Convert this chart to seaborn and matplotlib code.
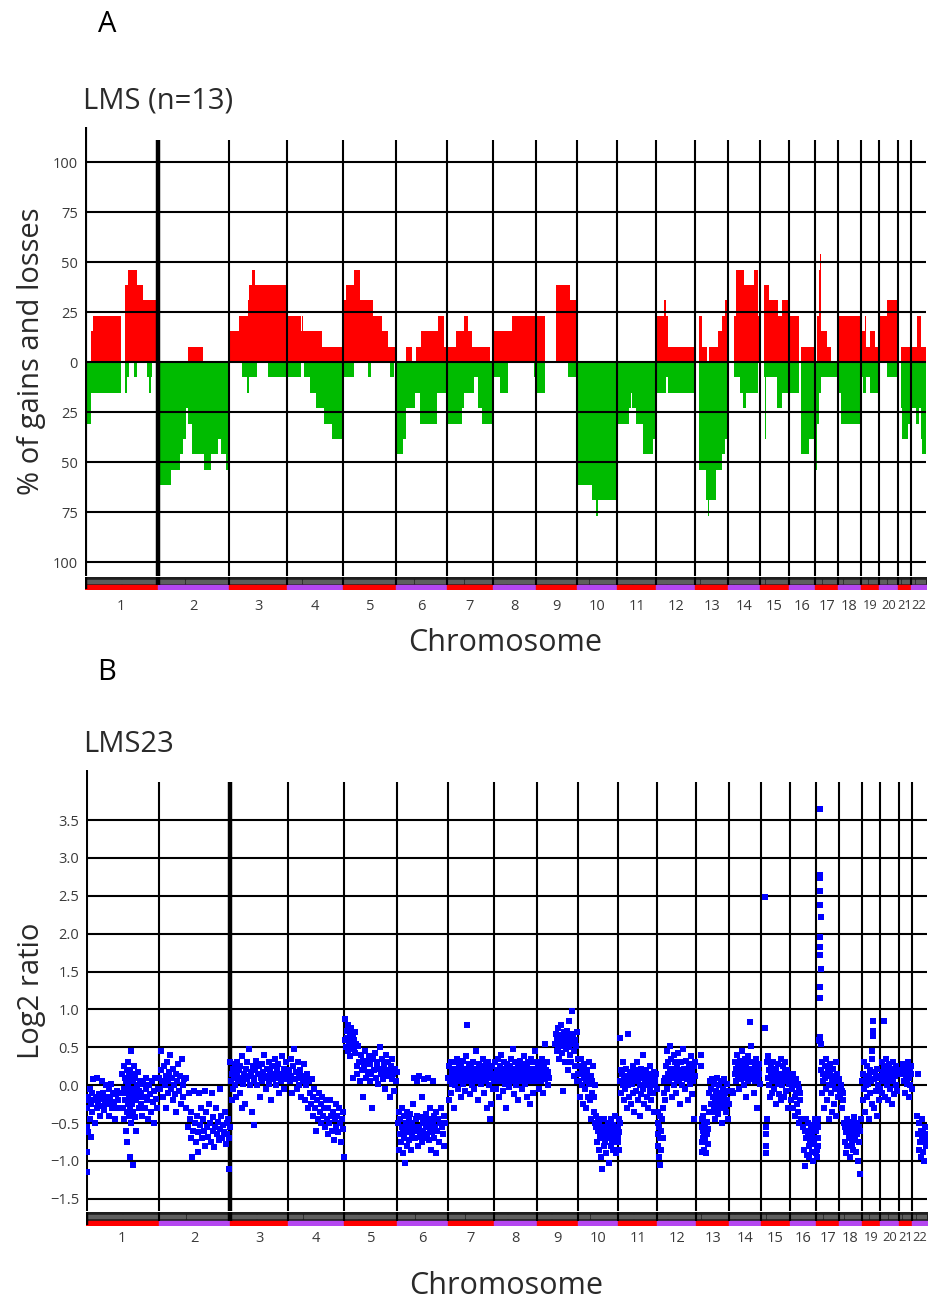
import matplotlib
matplotlib.use('Agg')
import matplotlib.pyplot as plt
import numpy as np
import pandas as pd
import seaborn as sns

# chromosome sizes (Mb) and centromere positions (Mb)
chrom_names = [str(i) for i in range(1, 23)]
chrom_mb = [247, 243, 199, 191, 181, 171, 159, 146, 140, 135, 134, 132,
            114, 106, 100, 89, 79, 76, 64, 62, 47, 50]
centromere_mb = [124, 93, 91, 50, 48, 60, 59, 45, 49, 40, 53, 35,
                 17, 17, 19, 36, 24, 17, 26, 27, 13, 13]

pct_ticks = [-100, -75, -50, -25, 0, 25, 50, 75, 100]
log2_ticks = [-1.5, -1.0, -0.5, 0.0, 0.5, 1.0, 1.5, 2.0, 2.5, 3.0, 3.5]

# panel A: % of 13 tumours with gain / loss, (chromosome, start Mb, end Mb, %)
gains = [
    (1, 20, 26, 15.4), (1, 26, 122, 23.1), (1, 136, 145, 38.5), (1, 145, 176, 46.2),
    (1, 176, 199, 38.5), (1, 199, 247, 30.8),
    (2, 103, 155, 7.7),
    (3, 0, 36, 15.4), (3, 36, 64, 23.1), (3, 64, 70, 30.8), (3, 70, 79, 38.5),
    (3, 79, 90, 46.2), (3, 90, 199, 38.5),
    (4, 0, 48, 23.1), (4, 48, 51, 15.4), (4, 51, 53, 23.1), (4, 53, 118, 15.4),
    (4, 118, 186, 7.7),
    (5, 0, 9, 30.8), (5, 9, 35, 38.5), (5, 35, 58, 46.2), (5, 58, 101, 30.8),
    (5, 101, 132, 23.1), (5, 132, 151, 15.4), (5, 151, 181, 7.7),
    (6, 32, 52, 7.7), (6, 67, 82, 7.7), (6, 82, 142, 15.4), (6, 142, 161, 23.1),
    (6, 161, 171, 7.7),
    (7, 0, 33, 7.7), (7, 33, 59, 15.4), (7, 59, 73, 23.1), (7, 73, 85, 15.4),
    (7, 85, 147, 7.7), (7, 154, 159, 7.7),
    (8, 0, 4, 23.1), (8, 4, 64, 15.4), (8, 64, 146, 23.1),
    (9, 0, 31, 23.1), (9, 67, 114, 38.5), (9, 114, 140, 30.8),
    (12, 0, 28, 23.1), (12, 28, 34, 30.8), (12, 34, 40, 23.1), (12, 40, 132, 7.7),
    (13, 15, 23, 23.1), (13, 23, 42, 7.7), (13, 49, 77, 7.7), (13, 77, 91, 15.4),
    (13, 91, 103, 23.1), (13, 103, 114, 30.8),
    (14, 18, 27, 23.1), (14, 27, 52, 46.2), (14, 52, 86, 38.5), (14, 86, 101, 46.2),
    (14, 101, 106, 23.1),
    (15, 15, 32, 38.5), (15, 32, 62, 30.8), (15, 62, 77, 23.1), (15, 77, 100, 30.8),
    (16, 0, 35, 23.1), (16, 42, 89, 7.7),
    (17, 6, 14, 23.1), (17, 14, 17, 46.2), (17, 17, 20, 53.8), (17, 20, 40, 15.4),
    (17, 40, 54, 7.7),
    (18, 0, 76, 23.1),
    (19, 0, 16, 15.4), (19, 16, 20, 23.1), (19, 20, 31, 7.7), (19, 31, 48, 15.4),
    (19, 48, 64, 7.7),
    (20, 0, 26, 23.1), (20, 26, 62, 30.8),
    (21, 11, 47, 7.7),
    (22, 0, 19, 7.7), (22, 19, 34, 23.1), (22, 34, 50, 7.7),
]

losses = [
    (1, 0, 6, 38.5), (1, 6, 20, 30.8), (1, 20, 122, 15.4), (1, 136, 144, 15.4),
    (1, 144, 151, 7.7), (1, 168, 176, 7.7), (1, 210, 218, 7.7), (1, 218, 225, 15.4),
    (1, 225, 227, 7.7),
    (2, 0, 47, 61.5), (2, 47, 75, 53.8), (2, 75, 87, 46.2), (2, 87, 97, 38.5),
    (2, 97, 103, 23.1), (2, 103, 118, 30.8), (2, 118, 158, 46.2), (2, 158, 183, 53.8),
    (2, 183, 205, 46.2), (2, 205, 215, 38.5), (2, 215, 232, 46.2), (2, 232, 243, 53.8),
    (3, 45, 63, 7.7), (3, 63, 70, 15.4), (3, 70, 96, 7.7), (3, 133, 199, 7.7),
    (4, 0, 48, 7.7), (4, 57, 78, 7.7), (4, 78, 98, 15.4), (4, 98, 125, 23.1),
    (4, 125, 152, 30.8), (4, 152, 191, 38.5),
    (5, 0, 35, 7.7), (5, 84, 95, 7.7), (5, 158, 172, 7.7),
    (6, 0, 23, 46.2), (6, 23, 31, 38.5), (6, 31, 62, 23.1), (6, 62, 80, 15.4),
    (6, 80, 139, 30.8), (6, 139, 171, 15.4),
    (7, 0, 53, 30.8), (7, 53, 59, 23.1), (7, 59, 93, 15.4), (7, 93, 108, 7.7),
    (7, 108, 122, 23.1), (7, 122, 159, 30.8),
    (8, 0, 22, 7.7), (8, 22, 49, 15.4), (8, 139, 146, 7.7),
    (9, 0, 31, 15.4), (9, 108, 140, 7.7),
    (10, 0, 50, 61.5), (10, 50, 65, 69.2), (10, 65, 69, 76.9), (10, 69, 135, 69.2),
    (11, 0, 42, 30.8), (11, 42, 47, 23.1), (11, 47, 51, 15.4), (11, 51, 64, 23.1),
    (11, 64, 90, 30.8), (11, 90, 122, 46.2), (11, 122, 134, 38.5),
    (12, 0, 34, 15.4), (12, 34, 40, 7.7), (12, 40, 132, 15.4),
    (13, 15, 38, 53.8), (13, 38, 43, 69.2), (13, 43, 49, 76.9), (13, 49, 71, 69.2),
    (13, 71, 91, 53.8), (13, 91, 102, 46.2), (13, 102, 114, 38.5),
    (14, 18, 41, 7.7), (14, 41, 48, 15.4), (14, 48, 59, 23.1), (14, 59, 101, 15.4),
    (15, 15, 18, 7.7), (15, 18, 21, 38.5), (15, 21, 60, 7.7), (15, 60, 77, 23.1),
    (15, 77, 100, 15.4),
    (16, 0, 35, 15.4), (16, 42, 69, 46.2), (16, 69, 89, 38.5),
    (17, 0, 3, 30.8), (17, 3, 6, 53.8), (17, 6, 14, 30.8), (17, 14, 20, 15.4),
    (17, 20, 79, 7.7),
    (18, 0, 11, 15.4), (18, 11, 76, 30.8),
    (19, 0, 10, 7.7), (19, 10, 20, 15.4), (19, 20, 31, 7.7), (19, 31, 64, 15.4),
    (20, 26, 62, 7.7),
    (21, 11, 16, 23.1), (21, 16, 36, 38.5), (21, 36, 47, 30.8),
    (22, 0, 15, 23.1), (22, 15, 25, 30.8), (22, 25, 33, 23.1), (22, 33, 38, 38.5),
    (22, 38, 50, 46.2),
]

# panel B: LMS23 log2 ratios, (position Mb within chromosome, log2)
lms23_chr1 = [(2, -0.55), (3, -1.15), (4, -0.3), (5, -0.88), (6, -0.62), (8, -0.15), (10, -0.2),
              (12, -0.45), (14, -0.05), (16, -0.25), (18, -0.68), (20, -0.1), (22, -0.35), (25, 0.08),
              (27, -0.2), (30, -0.5), (33, -0.15), (36, -0.3), (38, 0.1), (41, -0.22), (44, -0.12),
              (47, -0.4), (50, -0.18), (53, 0.05), (56, -0.28), (59, -0.1), (62, -0.33), (65, -0.2),
              (68, 0.0), (71, -0.15), (74, -0.25), (77, -0.05), (80, -0.4), (83, -0.18), (86, 0.02),
              (89, -0.3), (92, -0.1), (95, -0.22), (98, -0.45), (101, -0.12), (104, -0.08), (107, -0.3),
              (110, -0.2), (122, -0.1), (124, 0.15), (126, -0.3), (128, 0.25), (130, -0.05), (131, -0.45),
              (133, 0.1), (134, -0.2), (136, -0.6), (137, 0.05), (138, -0.35), (139, 0.2), (140, -0.1),
              (141, -0.75), (142, 0.3), (143, -0.25), (144, 0.0), (145, -0.15), (146, 0.12), (147, -0.4),
              (148, -0.05), (149, 0.2), (150, -0.3), (151, -0.95), (152, 0.45), (153, -0.2), (154, 0.05),
              (155, -0.5), (156, -0.1), (157, 0.15), (158, -0.25), (159, -1.05), (160, 0.08), (161, -0.35),
              (162, -0.12), (163, 0.25), (165, -0.05), (166, -0.42), (168, 0.1), (170, -0.2), (172, -0.6),
              (174, 0.0), (176, -0.15), (178, 0.18), (180, -0.3), (182, -0.08), (184, 0.05), (186, -0.25),
              (188, -0.1), (191, -0.4), (194, 0.02), (197, -0.15), (200, -0.3), (203, 0.1), (206, -0.05),
              (209, -0.2), (212, -0.45), (215, 0.0), (218, -0.12), (221, -0.35), (224, 0.05), (227, -0.22),
              (230, -0.08), (233, -0.5), (236, 0.1), (239, -0.18), (242, -0.3), (245, -0.05)]
lms23_chr2 = [(2, 0.1), (5, -0.05), (8, 0.2), (10, 0.45), (13, 0.05), (16, -0.15), (18, 0.25), (21, 0.0),
              (24, 0.12), (26, -0.3), (29, 0.3), (32, 0.05), (34, -0.1), (37, 0.18), (40, 0.4), (42, -0.05),
              (45, 0.1), (48, -0.2), (50, 0.22), (53, 0.0), (56, -0.12), (58, 0.15), (61, -0.35), (64, 0.05),
              (67, 0.28), (70, -0.08), (73, 0.12), (76, -0.25), (79, 0.35), (82, 0.0), (85, -0.15), (88, 0.08),
              (92, -0.3), (95, 0.1), (100, -0.55), (103, -0.1), (106, -0.45), (109, -0.7), (112, -0.35),
              (115, -0.95), (118, -0.6), (121, -0.08), (124, -0.5), (127, -0.75), (130, -0.4), (133, -0.62),
              (136, -0.88), (139, -0.1), (142, -0.52), (145, -0.3), (148, -0.7), (151, -0.45), (154, -0.6),
              (157, -0.08), (160, -0.8), (163, -0.35), (166, -0.55), (169, -0.68), (172, -0.25), (175, -0.5),
              (178, -0.75), (181, -0.1), (184, -0.6), (187, -0.42), (190, -0.82), (193, -0.55), (196, -0.3),
              (199, -0.65), (202, -0.48), (205, -0.72), (208, -0.05), (211, -0.58), (214, -0.4), (217, -0.7),
              (220, -0.52), (223, -0.62), (226, -0.35), (229, -0.78), (232, -0.5), (235, -0.65), (238, -0.45),
              (240, -1.1), (241, -0.7), (242, -0.55)]
lms23_chr3 = [(2, 0.3), (4, 0.05), (6, -0.2), (8, 0.15), (10, 0.22), (12, -0.05), (14, 0.1), (16, 0.28),
              (18, 0.0), (20, 0.18), (22, -0.15), (24, 0.12), (26, 0.3), (28, 0.05), (30, 0.2), (33, -0.1),
              (36, 0.25), (39, 0.1), (40, -0.3), (42, 0.38), (45, 0.02), (48, 0.15), (51, -0.25), (54, 0.22),
              (57, 0.08), (60, 0.3), (63, 0.12), (66, 0.48), (69, 0.0), (72, 0.18), (75, -0.35), (78, 0.25),
              (81, 0.1), (83, -0.52), (84, 0.05), (87, 0.2), (90, 0.32), (93, 0.0), (96, 0.15), (99, 0.25),
              (102, -0.15), (105, 0.1), (108, 0.28), (111, 0.05), (114, 0.18), (117, 0.4), (120, 0.12),
              (123, -0.05), (126, 0.22), (129, 0.1), (132, 0.3), (135, 0.02), (138, 0.18), (141, -0.2),
              (144, 0.25), (147, 0.08), (150, 0.15), (153, 0.35), (156, 0.0), (159, 0.2), (162, 0.1),
              (165, 0.28), (168, -0.1), (171, 0.15), (174, 0.05), (177, 0.38), (180, 0.12), (183, 0.22),
              (186, -0.05), (189, 0.18), (192, 0.3), (195, 0.08), (197, 0.15)]
lms23_chr4 = [(2, 0.2), (5, 0.05), (8, 0.35), (11, 0.12), (14, -0.1), (17, 0.25), (20, 0.48), (23, 0.08),
              (26, 0.18), (29, -0.05), (32, 0.3), (35, 0.1), (38, 0.0), (41, 0.2), (44, -0.15), (47, 0.12),
              (50, 0.05), (53, 0.28), (56, -0.2), (59, 0.1), (62, 0.0), (65, 0.15), (68, -0.3), (71, 0.05),
              (74, -0.1), (77, -0.25), (80, 0.08), (83, -0.4), (86, -0.15), (89, -0.05), (92, -0.3),
              (95, -0.6), (98, -0.2), (101, -0.45), (104, -0.1), (107, -0.35), (110, -0.25), (113, -0.5),
              (116, -0.15), (119, -0.4), (122, -0.3), (125, -0.55), (128, -0.2), (131, -0.45), (134, -0.65),
              (137, -0.3), (140, -0.5), (143, -0.2), (146, -0.4), (149, -0.6), (152, -0.35), (155, -0.72),
              (158, -0.45), (161, -0.25), (164, -0.55), (167, -0.4), (170, -0.62), (173, -0.3), (176, -0.5),
              (179, -0.75), (182, -0.45), (185, -0.35), (188, -0.58), (190, -0.95)]
lms23_chr5 = [(2, 0.6), (4, 0.88), (6, 0.5), (8, 0.72), (10, 0.62), (12, 0.45), (14, 0.8), (16, 0.55),
              (18, 0.68), (20, 0.38), (22, 0.58), (24, 0.75), (26, 0.52), (28, 0.65), (30, 0.1), (32, 0.48),
              (34, 0.6), (36, 0.7), (38, 0.42), (40, 0.55), (42, 0.15), (44, 0.25), (47, 0.52), (50, 0.3),
              (53, 0.05), (56, 0.4), (59, 0.2), (62, 0.32), (65, -0.15), (68, 0.25), (71, 0.45), (74, 0.1),
              (77, 0.3), (80, 0.18), (83, 0.38), (86, 0.05), (89, 0.28), (92, 0.15), (95, -0.3), (98, 0.35),
              (101, 0.2), (104, 0.42), (107, 0.1), (110, 0.25), (113, 0.3), (116, 0.02), (119, 0.22),
              (122, 0.5), (125, 0.15), (128, 0.35), (131, 0.08), (134, 0.28), (137, -0.05), (140, 0.2),
              (143, 0.4), (146, 0.12), (149, 0.3), (152, 0.18), (155, -0.15), (158, 0.25), (161, 0.08),
              (164, 0.35), (167, 0.15), (170, -0.08), (173, 0.22), (176, 0.05), (179, 0.18)]
lms23_chr6 = [(2, -0.5), (4, -0.85), (6, -0.35), (8, -0.65), (10, -0.45), (12, -0.75), (14, -0.55),
              (16, -0.3), (18, -0.9), (20, -0.6), (22, -0.4), (24, -0.7), (26, -1.02), (28, -0.5), (30, -0.62),
              (32, -0.35), (34, -0.8), (36, -0.55), (38, -0.45), (40, -0.72), (42, -0.6), (44, -0.38),
              (46, -0.85), (48, -0.5), (50, -0.65), (52, -0.25), (55, -0.55), (58, 0.1), (60, -0.7),
              (62, -0.45), (64, -0.6), (66, 0.05), (68, -0.4), (70, -0.8), (72, -0.55), (74, 0.12), (76, -0.68),
              (78, -0.42), (80, -0.6), (82, -0.15), (84, -0.75), (86, -0.5), (88, -0.62), (90, 0.08),
              (92, -0.45), (94, -0.7), (96, -0.55), (98, -0.38), (100, -0.65), (102, -0.5), (104, 0.1),
              (106, -0.72), (108, -0.45), (110, -0.58), (112, -0.3), (114, -0.85), (116, -0.5), (118, -0.62),
              (120, 0.05), (122, -0.48), (124, -0.7), (126, -0.4), (128, -0.55), (130, -0.9), (133, -0.35),
              (136, -0.6), (139, -0.45), (142, -0.75), (145, -0.5), (148, -0.3), (151, -0.55), (154, -0.65),
              (157, -0.4), (160, -0.8), (163, -0.5)]
lms23_chr7 = [(2, 0.1), (4, -0.2), (6, 0.25), (8, 0.05), (10, 0.3), (12, -0.1), (14, 0.18), (16, 0.02),
              (18, 0.22), (20, -0.3), (22, 0.12), (24, 0.3), (26, 0.0), (28, 0.2), (30, 0.08), (32, 0.35),
              (34, -0.05), (36, 0.15), (38, 0.25), (40, 0.05), (42, 0.18), (44, -0.15), (46, 0.28), (48, 0.1),
              (50, 0.2), (52, 0.02), (54, 0.32), (56, 0.12), (58, -0.08), (60, 0.22), (62, 0.15), (64, 0.38),
              (65, 0.8), (67, 0.05), (69, 0.2), (71, 0.1), (73, 0.28), (75, -0.12), (77, 0.18), (79, 0.08),
              (81, 0.25), (83, 0.0), (85, 0.15), (87, 0.3), (89, 0.1), (91, -0.05), (93, 0.22), (95, 0.12),
              (97, 0.45), (99, 0.05), (101, 0.2), (103, 0.15), (105, -0.2), (107, 0.28), (109, 0.1),
              (111, 0.18), (113, 0.02), (115, 0.25), (117, 0.12), (119, 0.35), (121, 0.05), (123, 0.2),
              (125, -0.1), (127, 0.15), (129, 0.28), (131, 0.08), (133, 0.22), (135, -0.3), (137, 0.12),
              (139, 0.3), (141, 0.0), (143, -0.45), (145, 0.18), (147, -0.25), (149, 0.1), (151, 0.25),
              (153, -0.05), (155, 0.15), (157, 0.05)]
lms23_chr8 = [(2, 0.15), (4, 0.3), (6, -0.05), (8, 0.2), (10, 0.08), (12, 0.35), (14, 0.12), (16, -0.15),
              (18, 0.25), (20, 0.05), (22, 0.18), (24, 0.4), (26, 0.1), (28, -0.08), (30, 0.22), (32, 0.15),
              (34, 0.3), (36, 0.02), (38, 0.2), (40, -0.3), (42, 0.12), (44, 0.28), (46, 0.08), (48, 0.18),
              (50, -0.02), (52, 0.25), (54, 0.12), (56, 0.35), (58, 0.05), (60, 0.2), (62, 0.48), (64, 0.1),
              (66, -0.12), (68, 0.22), (70, 0.15), (72, 0.3), (74, 0.0), (76, 0.18), (78, 0.08), (80, 0.25),
              (82, -0.2), (84, 0.12), (86, 0.32), (88, 0.05), (90, 0.2), (92, 0.15), (94, -0.05), (96, 0.28),
              (98, 0.1), (100, 0.18), (102, 0.38), (104, 0.02), (106, 0.2), (108, 0.12), (110, -0.15),
              (112, 0.25), (114, 0.08), (116, 0.3), (118, 0.15), (120, -0.25), (122, 0.2), (124, 0.05),
              (126, 0.35), (128, 0.12), (130, 0.22), (132, -0.1), (134, 0.18), (136, 0.3), (138, 0.08),
              (140, 0.45), (142, 0.15), (144, 0.05)]
lms23_chr9 = [(2, 0.1), (4, 0.25), (6, -0.05), (8, 0.18), (10, 0.3), (12, 0.05), (14, 0.2), (16, 0.12),
              (18, 0.35), (20, -0.1), (22, 0.15), (24, 0.28), (26, 0.55), (28, 0.08), (30, 0.2), (32, 0.12),
              (34, 0.3), (36, 0.0), (38, 0.18), (40, 0.1), (62, 0.55), (64, 0.68), (66, 0.45), (68, 0.62),
              (70, 0.75), (72, 0.5), (74, 0.58), (76, 0.35), (78, 0.66), (80, 0.8), (82, 0.52), (84, 0.6),
              (86, 0.42), (88, -0.08), (90, 0.7), (92, 0.55), (94, 0.3), (96, 0.62), (98, 0.48), (100, 0.72),
              (102, 0.58), (104, 0.2), (106, 0.65), (108, 0.5), (110, 0.85), (112, 0.4), (114, 0.6),
              (116, 0.3), (118, 0.55), (120, 0.98), (122, 0.68), (124, 0.12), (126, 0.45), (128, 0.6),
              (130, 0.25), (132, 0.52), (134, 0.05), (136, 0.7), (138, 0.35), (139, 0.15)]
lms23_chr10 = [(2, 0.05), (4, 0.25), (6, -0.15), (8, 0.15), (10, 0.35), (12, 0.0), (14, 0.2), (16, -0.25),
               (18, 0.1), (20, 0.28), (22, -0.05), (24, 0.15), (26, 0.05), (28, -0.3), (30, 0.2), (32, 0.1),
               (34, -0.15), (36, 0.3), (38, 0.02), (40, -0.2), (42, 0.12), (44, -0.45), (46, 0.05),
               (48, -0.1), (50, 0.25), (52, -0.35), (54, -0.15), (56, 0.0), (58, -0.5), (60, -0.4),
               (62, -0.55), (64, -0.75), (66, -0.45), (68, -0.6), (70, -0.85), (72, -0.5), (74, -0.68),
               (76, -0.95), (78, -0.55), (80, -0.7), (82, -1.1), (84, -0.6), (86, -0.8), (88, -0.45),
               (90, -0.65), (92, -0.75), (94, -0.55), (96, -0.9), (98, -0.62), (100, -0.5), (102, -0.7),
               (104, -1.02), (106, -0.58), (108, -0.68), (110, -0.45), (112, -0.8), (114, -0.6), (116, -0.72),
               (118, -0.52), (120, -0.85), (122, -0.65), (124, -0.4), (126, -0.75), (128, -0.6), (130, -0.9),
               (132, -0.55), (134, -0.68)]
lms23_chr11 = [(1, -0.55), (2, -0.75), (3, -0.45), (4, -0.85), (5, -0.62), (6, -0.5), (7, 0.62), (8, 0.05),
               (10, 0.2), (12, -0.1), (14, 0.15), (16, 0.0), (18, 0.3), (20, -0.2), (22, 0.1), (24, -0.05),
               (26, 0.22), (28, 0.05), (30, -0.3), (32, 0.12), (34, 0.0), (36, 0.68), (38, -0.15), (40, 0.18),
               (42, 0.08), (44, -0.25), (46, 0.1), (48, 0.02), (50, 0.25), (52, -0.1), (54, 0.15), (56, -0.35),
               (58, 0.05), (60, 0.2), (62, -0.08), (64, 0.12), (66, 0.3), (68, -0.2), (70, 0.05), (72, 0.15),
               (74, -0.4), (76, 0.0), (78, 0.22), (80, -0.12), (82, 0.1), (84, 0.4), (86, -0.05), (88, 0.18),
               (90, -0.25), (92, 0.08), (94, 0.0), (96, 0.2), (98, -0.15), (100, 0.1), (102, -0.3), (104, 0.05),
               (106, 0.15), (108, -0.08), (110, 0.25), (112, 0.0), (114, -0.2), (116, 0.12), (118, 0.05),
               (120, -0.1), (122, 0.18), (124, -0.35), (126, 0.08), (128, 0.0), (130, 0.15), (132, -0.05)]
lms23_chr12 = [(1, -0.5), (2, -0.8), (3, -0.35), (4, -0.65), (5, -0.95), (6, -0.55), (8, -0.7), (9, -0.4),
               (10, -1.05), (12, -0.6), (14, -0.85), (16, -0.45), (18, -0.7), (20, -0.3), (22, -0.1),
               (24, 0.05), (26, -0.2), (28, 0.1), (30, 0.25), (32, -0.05), (34, 0.45), (36, 0.15), (38, 0.3),
               (40, 0.05), (42, 0.2), (44, 0.52), (46, 0.1), (48, 0.35), (50, -0.15), (52, 0.22), (54, 0.12),
               (56, 0.4), (58, 0.0), (60, 0.18), (62, 0.3), (64, -0.1), (66, 0.25), (68, 0.08), (70, 0.15),
               (72, 0.42), (74, 0.05), (76, 0.2), (78, -0.25), (80, 0.12), (82, 0.3), (84, 0.0), (86, 0.18),
               (88, 0.48), (90, 0.1), (92, 0.22), (94, -0.05), (96, 0.15), (98, 0.32), (100, 0.08), (102, 0.2),
               (104, -0.2), (106, 0.12), (108, 0.28), (110, 0.02), (112, 0.15), (114, 0.38), (116, 0.1),
               (118, -0.12), (120, 0.2), (122, 0.05), (124, 0.25), (126, -0.45), (128, 0.12), (130, 0.3)]
lms23_chr13 = [(17, 0.4), (18, 0.25), (19, -0.45), (20, -0.75), (21, -0.55), (22, -0.88), (23, -0.6),
               (24, -0.4), (25, -0.7), (26, -0.5), (27, -0.85), (28, -0.62), (29, -0.3), (30, -0.72),
               (32, -0.55), (34, -0.9), (36, -0.65), (38, -0.48), (40, -0.78), (42, -0.58), (44, -0.35),
               (46, -0.1), (48, 0.05), (50, -0.25), (52, -0.05), (54, -0.35), (56, 0.08), (58, -0.15),
               (60, -0.3), (62, 0.02), (64, -0.2), (66, -0.45), (68, -0.08), (70, 0.1), (72, -0.25),
               (74, -0.12), (76, -0.38), (78, 0.0), (80, -0.18), (82, -0.3), (84, 0.05), (86, -0.1),
               (88, -0.22), (90, -0.5), (92, -0.05), (94, -0.15), (96, 0.08), (98, -0.28), (100, -0.1),
               (102, -0.35), (104, 0.02), (106, -0.2), (108, -0.45), (110, -0.08), (112, -0.25)]
lms23_chr14 = [(8, -0.08), (12, -0.1), (18, 0.15), (20, 0.3), (22, 0.05), (24, 0.22), (26, 0.4), (28, 0.12),
               (30, 0.25), (32, -0.05), (34, 0.18), (36, 0.32), (38, 0.08), (40, 0.2), (42, 0.45), (44, 0.1),
               (46, 0.28), (48, 0.0), (50, 0.15), (52, 0.35), (54, 0.2), (56, -0.15), (58, 0.25), (60, 0.12),
               (62, 0.38), (64, 0.05), (66, 0.2), (68, 0.3), (70, 0.84), (72, 0.15), (74, 0.52), (76, 0.22),
               (78, 0.08), (80, 0.3), (82, -0.1), (84, 0.18), (86, 0.25), (88, 0.05), (90, 0.35), (92, 0.12),
               (94, -0.3), (96, 0.2), (98, 0.1), (100, 0.28), (102, 0.15), (104, 0.02)]
lms23_chr15 = [(15, 2.48), (16, 0.75), (17, -0.55), (18, -0.8), (19, -0.65), (20, -0.9), (21, -0.45),
               (22, 0.3), (24, 0.1), (26, 0.38), (28, 0.0), (30, 0.2), (32, -0.15), (34, 0.12), (36, 0.25),
               (38, 0.05), (40, -0.1), (42, 0.18), (44, 0.3), (46, -0.05), (48, 0.15), (50, 0.08), (52, -0.25),
               (54, 0.22), (56, 0.1), (58, 0.02), (60, 0.28), (62, -0.12), (64, 0.15), (66, 0.05), (68, 0.35),
               (70, -0.2), (72, 0.12), (74, 0.0), (76, 0.25), (78, 0.08), (80, -0.15), (82, 0.18), (84, 0.3),
               (86, 0.05), (88, -0.08), (90, 0.2), (92, 0.12), (94, -0.3), (96, 0.1), (98, 0.02)]
lms23_chr16 = [(2, 0.05), (4, -0.2), (6, 0.12), (8, -0.05), (10, -0.3), (12, 0.15), (14, 0.0), (16, -0.15),
               (18, -0.4), (20, 0.08), (22, -0.1), (24, -0.25), (26, 0.02), (28, -0.35), (30, -0.05),
               (32, -0.5), (34, -0.2), (36, -0.1), (38, -0.45), (46, -0.55), (48, -0.85), (50, -0.6),
               (52, -1.07), (54, -0.7), (56, -0.45), (58, -0.92), (60, -0.65), (62, -0.5), (64, -0.8),
               (66, -0.95), (68, -0.6), (70, -0.75), (72, -0.52), (74, -0.88), (76, -0.68), (78, -1.0),
               (80, -0.58), (82, -0.78), (84, -0.45), (86, -0.7), (88, -0.9)]
lms23_chr17 = [(1, -0.6), (2, -0.85), (3, -0.5), (4, -0.95), (5, -0.7), (6, -0.55), (7, -0.8), (8, -0.45),
               (11, 0.6), (12, 0.64), (13, 3.64), (13.5, 2.77), (14, 2.74), (14.5, 2.56), (15, 2.38),
               (15.5, 2.22), (14, 1.96), (14.5, 1.82), (15, 1.72), (15.5, 1.53), (14, 1.3), (15, 1.15),
               (13, 0.58), (18, 0.55), (17, 0.2), (19, -0.1), (21, 0.3), (23, 0.05), (25, 0.15), (27, -0.3),
               (29, 0.25), (31, 0.1), (33, -0.05), (35, 0.35), (37, 0.12), (39, -0.2), (41, 0.2), (43, 0.0),
               (45, -0.45), (47, 0.15), (49, 0.28), (51, -0.1), (53, 0.08), (55, -0.35), (57, 0.22),
               (59, 0.02), (61, -0.25), (63, 0.12), (65, -0.05), (67, 0.3), (69, -0.4), (71, 0.05), (73, 0.15),
               (75, -0.15), (77, 0.08)]
lms23_chr18 = [(2, -0.05), (4, -0.12), (6, 0.0), (8, -0.3), (10, -0.08), (12, -0.2), (14, -0.1), (16, -0.5),
               (18, -0.75), (20, -0.55), (22, -0.9), (24, -0.62), (26, -0.45), (28, -0.8), (30, -0.6),
               (32, -0.7), (34, -0.5), (36, -0.95), (38, -0.65), (40, -0.55), (42, -0.78), (44, -0.48),
               (46, -0.68), (48, -0.85), (50, -0.6), (52, -0.42), (54, -0.72), (56, -0.58), (58, -0.88),
               (60, -0.5), (62, -0.65), (64, -1.0), (66, -0.55), (68, -0.75), (70, -1.17), (72, -0.6),
               (74, -0.45)]
lms23_chr19 = [(2, 0.05), (4, -0.2), (6, 0.15), (8, -0.05), (10, 0.3), (12, -0.35), (14, 0.1), (16, 0.0),
               (18, -0.15), (20, 0.25), (22, 0.02), (24, -0.45), (26, 0.12), (28, -0.1), (30, 0.2), (32, 0.05),
               (34, -0.25), (35, 0.45), (36, 0.35), (38, 0.65), (39, 0.72), (40, 0.85), (42, 0.08), (44, -0.3),
               (46, 0.18), (48, -0.08), (50, 0.1), (52, -0.4), (54, 0.22), (56, 0.0), (58, -0.2), (60, 0.12),
               (62, -0.05)]
lms23_chr20 = [(2, 0.1), (4, 0.3), (6, -0.1), (8, 0.18), (10, 0.05), (12, 0.85), (14, 0.25), (16, -0.15),
               (18, 0.12), (20, 0.35), (22, 0.0), (24, 0.2), (26, -0.2), (28, 0.08), (30, 0.28), (32, 0.15),
               (34, -0.05), (36, 0.22), (38, 0.1), (40, -0.25), (42, 0.3), (44, 0.05), (46, 0.18), (48, -0.12),
               (50, 0.12), (52, 0.25), (54, 0.0), (56, 0.15), (58, -0.08), (60, 0.2)]
lms23_chr21 = [(14, 0.15), (16, 0.28), (18, 0.05), (20, 0.2), (22, -0.1), (24, 0.12), (26, 0.25), (28, 0.02),
               (30, 0.18), (32, 0.3), (34, -0.15), (36, 0.1), (38, 0.22), (40, 0.0), (42, 0.15), (44, 0.25),
               (46, -0.05)]
lms23_chr22 = [(16, -0.4), (18, 0.15), (20, -0.65), (22, -0.85), (24, -0.5), (26, -0.75), (28, -0.95),
               (30, -0.6), (32, -0.7), (34, -0.45), (36, -0.88), (38, -0.62), (40, -1.0), (42, -0.72),
               (44, -0.55), (46, -0.8), (48, -0.65)]

lms23 = [lms23_chr1, lms23_chr2, lms23_chr3, lms23_chr4, lms23_chr5, lms23_chr6, lms23_chr7,
         lms23_chr8, lms23_chr9, lms23_chr10, lms23_chr11, lms23_chr12, lms23_chr13, lms23_chr14,
         lms23_chr15, lms23_chr16, lms23_chr17, lms23_chr18, lms23_chr19, lms23_chr20, lms23_chr21,
         lms23_chr22]

RED = '#ff0000'
GREEN = '#00bb00'
BLUE = '#0000ff'
PURPLE = '#b446f0'
TXT = '#2a2a2a'

sns.set_style('white')
plt.rcParams['font.family'] = ['Open Sans', 'DejaVu Sans']

offsets = np.concatenate([[0], np.cumsum(chrom_mb)[:-1]])
genome = float(np.sum(chrom_mb))
bounds = np.cumsum(chrom_mb)[:-1]
mids = offsets + np.array(chrom_mb) / 2.0


def draw_frame(ax, ticks, labels, ylim, vtop, thick_idx, spine_w):
    ax.set_xlim(0, genome)
    ax.set_ylim(*ylim)
    for s in ax.spines.values():
        s.set_visible(False)
    ax.hlines(ticks, 0, genome, color='black', lw=1.5, zorder=4)
    widths = [3.2 if i == thick_idx else 1.5 for i in range(len(bounds))]
    ax.vlines(bounds, ylim[0], vtop, color='black', lw=widths, zorder=4)
    ax.axvline(0, color='black', lw=spine_w, zorder=5)
    ax.set_xticks([])
    ax.set_yticks(ticks)
    ax.set_yticklabels(labels)
    ax.tick_params(axis='y', length=0, pad=5, labelsize=10.5, labelcolor='#3a3a3a')
    ax.grid(False)


def draw_ideogram(ax, thick_idx):
    ax.set_xlim(0, genome)
    ax.set_ylim(0, 1)
    ax.broken_barh([(0, genome)], (0.3, 0.7), color='#1e1e1e')
    for i, (off, ln, cen) in enumerate(zip(offsets, chrom_mb, centromere_mb)):
        ax.broken_barh([(off + 3, cen - 6), (off + cen + 3, ln - cen - 6)], (0.52, 0.22),
                       color='#5e5e5e')
        ax.broken_barh([(off, ln)], (0.0, 0.3), color=RED if i % 2 == 0 else PURPLE)
    widths = [3.2 if i == thick_idx else 1.5 for i in range(len(bounds))]
    ax.vlines(bounds, 0.3, 1, color='black', lw=widths)
    ax.axvline(0, color='black', lw=2.5)
    for s in ax.spines.values():
        s.set_visible(False)
    ax.set_yticks([])
    ax.set_xticks(mids)
    ax.set_xticklabels(chrom_names, color='#3a3a3a')
    # the short chromosomes at the right end get a slightly smaller label
    for i, lab in enumerate(ax.get_xticklabels()):
        lab.set_fontsize(10.5 if i < 18 else 9.3)
    ax.tick_params(axis='x', length=0)
    ax.set_xlabel('Chromosome', fontsize=22, color=TXT)


fig = plt.figure(figsize=(9.31, 12.99), dpi=100)
W, H = 931.0, 1299.0

# ---------------- panel A ----------------
axA = fig.add_axes([85 / W, 1 - 576 / H, 841 / W, 449 / H])
ideoA = fig.add_axes([85 / W, 1 - 589 / H, 841 / W, 12 / H])

for chrom, start, end, pct in gains:
    axA.bar(offsets[chrom - 1] + start, pct, width=end - start, align='edge',
            color=RED, lw=0, antialiased=False, zorder=2)
for chrom, start, end, pct in losses:
    axA.bar(offsets[chrom - 1] + start, -pct, width=end - start, align='edge',
            color=GREEN, lw=0, antialiased=False, zorder=2)

draw_frame(axA, pct_ticks, [str(abs(t)) for t in pct_ticks], (-107, 117.5), 111, 0, 3.0)
axA.set_ylabel('% of gains and losses', fontsize=21, color=TXT)
axA.yaxis.set_label_coords(-0.046, 0.5)
draw_ideogram(ideoA, 0)
ideoA.tick_params(axis='x', pad=7)
ideoA.xaxis.labelpad = 10

# ---------------- panel B ----------------
axB = fig.add_axes([86 / W, 1 - 1211 / H, 841 / W, 441 / H])
ideoB = fig.add_axes([86 / W, 1 - 1225 / H, 841 / W, 13 / H])

df = pd.DataFrame([(offsets[i] + pos, val) for i, pts in enumerate(lms23) for pos, val in pts],
                  columns=['position', 'log2'])
sns.scatterplot(data=df, x='position', y='log2', ax=axB, marker='s', s=14,
                color=BLUE, linewidth=0, zorder=6)
draw_frame(axB, log2_ticks, ['%.1f' % t if t >= 0 else '\u2212%.1f' % abs(t) for t in log2_ticks],
           (-1.66, 4.16), 4.0, 1, 2.2)
axB.set_xlabel('')
axB.set_ylabel('Log2 ratio', fontsize=21, color=TXT)
axB.yaxis.set_label_coords(-0.048, 0.5)
draw_ideogram(ideoB, 1)
ideoB.tick_params(axis='x', pad=4)
ideoB.xaxis.labelpad = 18

# panel letters and titles
fig.text(107 / W, 1 - 25 / H, 'A', fontsize=21, color='black', ha='center', va='center')
fig.text(83 / W, 1 - 101 / H, 'LMS (n=13)', fontsize=21, color=TXT, ha='left', va='center')
fig.text(107 / W, 1 - 672 / H, 'B', fontsize=21, color='black', ha='center', va='center')
fig.text(83 / W, 1 - 745 / H, 'LMS23', fontsize=21, color=TXT, ha='left', va='center')

fig.savefig('out.png', dpi=100)
